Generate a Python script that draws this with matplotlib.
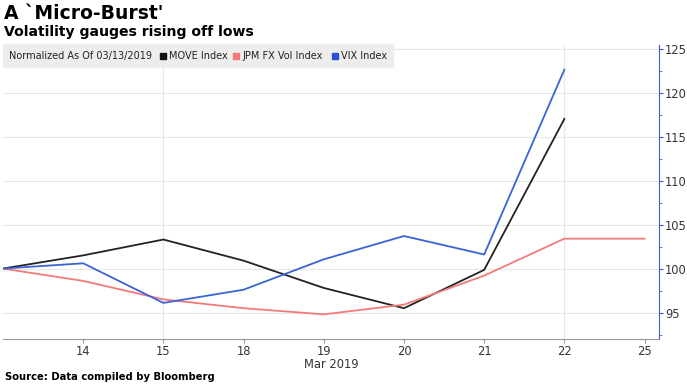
import matplotlib.pyplot as plt
from matplotlib.patches import Rectangle
from matplotlib.ticker import MultipleLocator

days = ['13', '14', '15', '18', '19', '20', '21', '22', '25']
move = [100, 101.5, 103.3, 100.9, 97.8, 95.5, 99.85, 117.0]
jpm = [100, 98.6, 96.5, 95.5, 94.8, 95.9, 99.2, 103.4, 103.4]
vix = [100, 100.6, 96.1, 97.6, 101.05, 103.7, 101.6, 122.6]

W, H = 687, 386
fig = plt.figure(figsize=(W / 100, H / 100), dpi=100)
ax = fig.add_axes([3 / W, 1 - 339 / H, 656 / W, 294 / H])

x = list(range(len(days)))
ax.plot(x[:len(move)], move, color='#222222', lw=1.3)
ax.plot(x, jpm, color='#f47a7a', lw=1.3)
ax.plot(x[:len(vix)], vix, color='#3b63d8', lw=1.3)

ax.set_xlim(0, 8.18)
ax.set_ylim(92, 125.4)
ax.set_xticks(x[1:])
ax.set_xticklabels(days[1:])
ax.yaxis.tick_right()
ax.yaxis.set_major_locator(MultipleLocator(5))
ax.yaxis.set_minor_locator(MultipleLocator(2.5))
ax.set_yticks([95, 100, 105, 110, 115, 120, 125])
ax.grid(axis='y', color='#e6e6e6', lw=0.8)
# vertical grid only at week starts
for xv in [2, 7]:
    ax.axvline(xv, color='#e6e6e6', lw=0.8, zorder=0)

for s in ['top', 'left']:
    ax.spines[s].set_visible(False)
ax.spines['right'].set_color('#3b63d8')
ax.spines['bottom'].set_color('#999999')
ax.tick_params(axis='y', which='both', colors='#3b63d8', labelcolor='#333333',
               labelsize=8.3, length=3, pad=1.5)
ax.tick_params(axis='y', which='minor', length=2)
ax.tick_params(axis='x', colors='#999999', labelcolor='#333333', labelsize=8.3,
               length=3, pad=1)
fig.text(331 / W, 1 - 364 / H, 'Mar 2019', ha='center', va='center',
         fontsize=8.3, color='#333333')

fig.text(4 / W, 1 - 19 / H, "A `Micro-Burst'", fontsize=13.5, fontweight='bold',
         va='baseline')
fig.text(4 / W, 1 - 36 / H, 'Volatility gauges rising off lows', fontsize=10.1,
         fontweight='bold', va='baseline')

# legend bar
fig.patches.append(Rectangle((3 / W, 1 - 67 / H), 390 / W, 23 / H,
                             transform=fig.transFigure, color='#ededed', zorder=0))
ly = 1 - 56 / H
fig.text(9 / W, ly, 'Normalized As Of 03/13/2019', fontsize=7.0, va='center', color='#222222')
labels = ['MOVE Index', 'JPM FX Vol Index', 'VIX Index']
colors = ['#111111', '#f47a7a', '#2b50d6']
xs = [160, 233, 332]
for lx, lab, c in zip(xs, labels, colors):
    fig.patches.append(Rectangle((lx / W, ly - 3 / H), 6 / W, 6 / H,
                                 transform=fig.transFigure, color=c))
    fig.text((lx + 9) / W, ly, lab, fontsize=7.0, va='center', color='#222222')

fig.text(5 / W, 1 - 377 / H, 'Source: Data compiled by Bloomberg', fontsize=7.2,
         fontweight='bold', va='center')

fig.savefig('out.png', dpi=100)
